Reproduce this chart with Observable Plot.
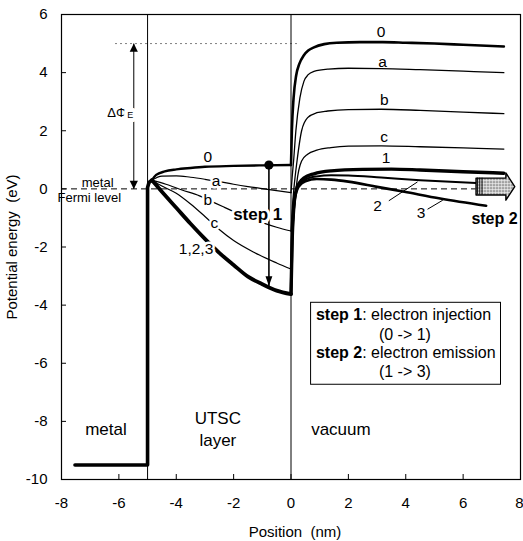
<!DOCTYPE html>
<html>
<head>
<meta charset="utf-8">
<script src="https://cdn.jsdelivr.net/npm/d3@7"></script>
<script src="https://cdn.jsdelivr.net/npm/@observablehq/plot@0.6"></script>
<style>
  body { margin: 0; background: #fff; }
  #chart svg { display: block; }
</style>
</head>
<body>
<div id="chart"></div>
<script>
// Axis ticks
const xTicks = [-8, -6, -4, -2, 0, 2, 4, 6, 8];
const yTicks = [-10, -8, -6, -4, -2, 0, 2, 4, 6];

// Interfaces: metal | UTSC layer at -5 nm, UTSC layer | vacuum at 0 nm
const interfaces = [-5, 0];

// Metal electrode: band bottom and wall up to the layer
const metalEdge = [[-7.53, -9.5], [-5, -9.5], [-5, 0.05], [-4.95, 0.22], [-4.85, 0.3]];

// Potential inside the UTSC layer (x in nm, energy in eV)
const layer0 = [[-4.85, 0.3], [-4.7, 0.48], [-4.4, 0.6], [-4, 0.67], [-3.5, 0.72], [-3, 0.76], [-2, 0.79], [-1, 0.81], [0, 0.82]];
const layerA = [[-4.85, 0.3], [-4.5, 0.44], [-4, 0.45], [-3.5, 0.4], [-3, 0.33], [-2.5, 0.25], [-2, 0.16], [-1.5, 0.08], [-1, 0.01], [-0.5, -0.06], [0, -0.13]];
const layerB = [[-4.85, 0.3], [-4.36, 0.16], [-3.8, -0.04], [-3.19, -0.24], [-2.9, -0.37], [-2.4, -0.6], [-2, -0.78], [-1.5, -0.98], [-1, -1.16], [-0.5, -1.32], [0, -1.45]];
const layerC = [[-4.85, 0.3], [-4.5, 0.1], [-4, -0.15], [-3.5, -0.52], [-3, -0.95], [-2.5, -1.4], [-2, -1.78], [-1.28, -2.19], [-0.5, -2.55], [0, -2.76]];
const layer123 = [[-4.85, 0.3], [-4.5, -0.1], [-4, -0.65], [-3.5, -1.2], [-3, -1.72], [-2.5, -2.2], [-2, -2.62], [-1.5, -3.02], [-1, -3.28], [-0.5, -3.5], [0, -3.62]];

// Potential in the vacuum
const vac0 = [[0, 0.82], [0.03, 2.0], [0.09, 3.13], [0.18, 3.9], [0.29, 4.3], [0.45, 4.6], [0.6, 4.76], [0.8, 4.87], [1.16, 4.98], [1.6, 5.03], [2.4, 5.05], [3.2, 5.05], [4, 5.03], [5, 5.0], [6, 4.96], [7.42, 4.9]];
const vacA = [[0, -0.13], [0.04, 0.4], [0.09, 0.96], [0.17, 2.0], [0.31, 3.13], [0.45, 3.7], [0.6, 3.93], [0.8, 4.04], [1.3, 4.12], [2, 4.15], [3.14, 4.14], [4.5, 4.1], [6, 4.05], [7.42, 4.0]];
const vacB = [[0, -1.45], [0.05, -0.6], [0.1, 0.0], [0.21, 0.96], [0.37, 2.0], [0.58, 2.45], [0.9, 2.62], [1.28, 2.68], [2, 2.73], [3.14, 2.74], [4.5, 2.7], [6, 2.64], [7.42, 2.59]];
const vacC = [[0, -2.76], [0.05, -1.6], [0.1, -0.9], [0.2, 0.2], [0.37, 0.96], [0.58, 1.19], [0.9, 1.33], [1.39, 1.42], [2, 1.47], [3.14, 1.48], [4.5, 1.45], [6, 1.41], [7.42, 1.37]];
const vac1 = [[0, -3.62], [0.04, -1.8], [0.1, -0.6], [0.18, -0.05], [0.3, 0.22], [0.46, 0.38], [0.8, 0.52], [1.4, 0.62], [2.5, 0.67], [3.5, 0.68], [4.5, 0.65], [6, 0.59], [7.42, 0.54]];
const vac2 = [[0, -3.62], [0.04, -1.8], [0.1, -0.6], [0.18, -0.08], [0.3, 0.18], [0.5, 0.32], [0.9, 0.43], [1.4, 0.47], [2, 0.46], [3.14, 0.39], [4.5, 0.3], [6.45, 0.2]];
const vac3 = [[0, -3.62], [0.04, -1.8], [0.1, -0.62], [0.18, -0.12], [0.3, 0.12], [0.5, 0.26], [0.9, 0.34], [1.4, 0.32], [2, 0.25], [3, 0.07], [3.95, -0.1], [5.2, -0.33], [6.8, -0.58]];

// Reference levels
const fermiLevel = 0;          // metal Fermi level
const fermiSpan = [-8, 6.45];
const vacuumLevel = 5;         // vacuum level of state 0
const vacuumSpan = [-6.1, 0.35];

// Curve labels
const labelText = ["0", "a", "b", "c", "1,2,3"];
const labelX = [-2.9, -2.61, -2.9, -2.67, -3.31];
const labelY = [1.08, 0.28, -0.37, -1.16, -2.07];
const vacLabelText = ["0", "a", "b", "c", "1", "2", "3"];
const vacLabelX = [3.14, 3.19, 3.25, 3.25, 3.31, 3.02, 4.53];
const vacLabelY = [5.41, 4.38, 3.05, 1.8, 1.05, -0.58, -0.82];
// Leader lines for labels 2 and 3: [x1, y1, x2, y2]
const leaders = [[3.41, -0.41, 4.41, 0.24], [4.76, -0.7, 5.29, -0.39]];

// Work-function change ΔΦE between Fermi level and vacuum level
const deltaPhiX = -5.48;

// Step 1: electron injection (state 0 -> 1)
const injectX = -0.77;
const injectFrom = 0.82;
const injectTo = -3.34;

// Step 2: electron emission arrow
const emitX0 = 6.45, emitNeck = 7.49, emitTip = 7.8;
const emitMid = 0.08, emitBody = 0.29, emitHead = 0.47;
const emitHatch = [6.5, 6.58, 6.66];

// Region names
const regionText = ["metal", "UTSC", "layer", "vacuum"];
const regionX = [-6.45, -2.55, -2.55, 1.74];
const regionY = [-8.27, -7.89, -8.67, -8.27];

// Legend box contents
const legendBold = ["step 1", "step 2"];
const legendRest = [": electron injection", ": electron emission"];
const legendSub = ["(0 -> 1)", "(1 -> 3)"];
const legendRowsY = [-4.34, -5.01, -5.64, -6.30];
const legendStartX = 0.87;
const legendCenterX = 3.97;
const legendBox = {x1: 0.7, x2: 7.32, y1: -6.74, y2: -3.92};

const FONT = '"Liberation Sans", Arial, Helvetica, sans-serif';

const toXY = (arr) => arr.map(([x, y]) => ({x, y}));
const curve = (arr, w) => Plot.line(toXY(arr), {
  x: "x", y: "y", stroke: "black", strokeWidth: w,
  curve: "monotone-x", strokeLinejoin: "round", strokeLinecap: "round"
});

// Filled arrowhead whose tip sits on the data point (dir 1 = down, -1 = up)
function arrowHead(dir, ratio) {
  return {
    draw(ctx, size) {
      const h = Math.sqrt(size) * 1.5;
      const w = h * ratio;
      ctx.moveTo(0, 0);
      ctx.lineTo(-w, -dir * h);
      ctx.lineTo(w, -dir * h);
      ctx.closePath();
    }
  };
}

// Text widths for the mixed-weight legend lines
const measureCtx = document.createElement("canvas").getContext("2d");
function textWidth(s, weight, size) {
  measureCtx.font = `${weight} ${size}px "Liberation Sans", Arial, sans-serif`;
  return measureCtx.measureText(s).width;
}
const LEGEND_SIZE = 16;
const boldWidth = textWidth(legendBold[0], "bold", LEGEND_SIZE);

const emitOutline = [
  [emitX0, emitMid + emitBody], [emitNeck, emitMid + emitBody], [emitNeck, emitMid + emitHead],
  [emitTip, emitMid], [emitNeck, emitMid - emitHead], [emitNeck, emitMid - emitBody],
  [emitX0, emitMid - emitBody]
];

const halo = {stroke: "white", strokeWidth: 5, paintOrder: "stroke", fill: "black"};
const lastTick = xTicks[xTicks.length - 1];

const svg = Plot.plot({
  width: 523,
  height: 541,
  marginTop: 14,
  marginRight: 3,
  marginBottom: 62,
  marginLeft: 61,
  style: {fontFamily: FONT, background: "white", color: "black", fontSize: "15px"},
  x: {domain: [-8, 8], axis: null},
  y: {domain: [-10, 6], axis: null},
  marks: [
    // interface lines
    Plot.ruleX(interfaces, {stroke: "black", strokeWidth: 1}),
    // Fermi level and vacuum level references
    Plot.ruleY([fermiLevel], {x1: fermiSpan[0], x2: fermiSpan[1], stroke: "black", strokeWidth: 1, strokeDasharray: "6,4"}),
    Plot.ruleY([vacuumLevel], {x1: vacuumSpan[0], x2: vacuumSpan[1], stroke: "black", strokeWidth: 1, strokeDasharray: "1,4"}),

    // potential curves, UTSC layer
    curve(layerA, 1.2),
    curve(layerB, 1.2),
    curve(layerC, 1.2),
    curve(layer0, 2.4),
    curve(layer123, 3.8),
    // potential curves, vacuum
    curve(vacA, 1.3),
    curve(vacB, 1.3),
    curve(vacC, 1.3),
    curve(vac0, 2.6),
    curve(vac2, 2.0),
    curve(vac3, 2.7),
    curve(vac1, 3.4),
    // metal electrode
    Plot.line(toXY(metalEdge), {x: "x", y: "y", stroke: "black", strokeWidth: 3.6, strokeLinejoin: "round"}),

    // step 2 emission arrow
    Plot.line(toXY(emitOutline), {x: "x", y: "y", curve: "linear-closed", fill: "url(#stipple)", stroke: "black", strokeWidth: 1.4}),
    Plot.ruleX(emitHatch, {y1: emitMid - emitBody, y2: emitMid + emitBody, stroke: "black", strokeWidth: 0.9}),

    // curve labels in the layer (white halo breaks the lines)
    Plot.text(labelText, {x: (d, i) => labelX[i], y: (d, i) => labelY[i], text: d => d, fontSize: 15.5, ...halo}),
    // curve labels in the vacuum
    Plot.text(vacLabelText, {x: (d, i) => vacLabelX[i], y: (d, i) => vacLabelY[i], text: d => d, fontSize: 15.5, fill: "black"}),
    Plot.link(leaders, {x1: d => d[0], y1: d => d[1], x2: d => d[2], y2: d => d[3], stroke: "black", strokeWidth: 1}),

    // ΔΦE double arrow
    Plot.link([0], {x1: deltaPhiX, x2: deltaPhiX, y1: fermiLevel, y2: vacuumLevel, stroke: "black", strokeWidth: 1}),
    Plot.dot([fermiLevel], {x: () => deltaPhiX, y: d => d, symbol: arrowHead(1, 0.5), r: 3.1, fill: "black", stroke: null}),
    Plot.dot([vacuumLevel], {x: () => deltaPhiX, y: d => d, symbol: arrowHead(-1, 0.5), r: 3.1, fill: "black", stroke: null}),
    Plot.text(["ΔΦ"], {x: () => -6.07, y: () => 2.63, text: d => d, fontSize: 13, ...halo, strokeWidth: 8}),
    Plot.text(["E"], {x: () => -5.6, y: () => 2.53, text: d => d, fontSize: 9, ...halo, strokeWidth: 8}),

    // step 1 injection arrow
    Plot.link([0], {x1: injectX, x2: injectX, y1: injectFrom, y2: injectTo, stroke: "black", strokeWidth: 1.6}),
    Plot.dot([injectTo], {x: () => injectX, y: d => d, symbol: arrowHead(1, 0.36), r: 3.6, fill: "black", stroke: null}),
    Plot.dot([injectFrom], {x: () => injectX, y: d => d, r: 4.6, fill: "black", stroke: null}),
    Plot.text(["step 1"], {x: () => -1.16, y: () => -0.87, text: d => d, fontSize: 17, fontWeight: "bold", ...halo, strokeWidth: 6}),
    Plot.text(["step 2"], {x: () => 7.9, y: () => -1.04, text: d => d, fontSize: 16, fontWeight: "bold", textAnchor: "end", fill: "black"}),

    // Fermi level caption
    Plot.text(["metal"], {x: () => -6.74, y: () => 0.22, text: d => d, fontSize: 13, fill: "black"}),
    Plot.text(["Fermi level"], {x: () => -7.03, y: () => -0.3, text: d => d, fontSize: 13, fill: "black"}),

    // region names
    Plot.text(regionText, {x: (d, i) => regionX[i], y: (d, i) => regionY[i], text: d => d, fontSize: 17, fill: "black"}),

    // legend box
    Plot.rect([legendBox], {x1: "x1", x2: "x2", y1: "y1", y2: "y2", fill: "white", stroke: "black", strokeWidth: 1}),
    Plot.text(legendBold, {x: () => legendStartX, y: (d, i) => legendRowsY[i * 2], text: d => d, textAnchor: "start", fontWeight: "bold", fontSize: LEGEND_SIZE, fill: "black"}),
    Plot.text(legendRest, {x: () => legendStartX, y: (d, i) => legendRowsY[i * 2], dx: boldWidth, text: d => d, textAnchor: "start", fontSize: LEGEND_SIZE, fill: "black"}),
    Plot.text(legendSub, {x: () => legendCenterX, y: (d, i) => legendRowsY[i * 2 + 1], text: d => d, fontSize: LEGEND_SIZE, fill: "black"}),

    // frame with inward ticks
    Plot.frame({stroke: "black", strokeWidth: 1.2}),
    Plot.ruleX(xTicks, {insetTop: 460, stroke: "black", strokeWidth: 1}),
    Plot.ruleY(yTicks, {insetRight: 454, stroke: "black", strokeWidth: 1}),
    // tick labels (the last x label is kept inside the page edge)
    Plot.text(xTicks.filter(d => d !== lastTick), {x: d => d, frameAnchor: "bottom", dy: 24, lineAnchor: "middle", text: d => String(d), fontSize: 15, fill: "black"}),
    Plot.text([lastTick], {x: d => d, frameAnchor: "bottom", dy: 24, dx: 3, lineAnchor: "middle", textAnchor: "end", text: d => String(d), fontSize: 15, fill: "black"}),
    Plot.axisY(yTicks, {tickSize: 0, tickPadding: 14, fontSize: 15, tickFormat: d => String(d), label: null}),
    Plot.text(["Position  (nm)"], {frameAnchor: "bottom", dy: 53, dx: 4, lineAnchor: "middle", text: d => d, fontSize: 15, fill: "black"}),
    Plot.text(["Potential energy  (eV)"], {frameAnchor: "left", dx: -49, rotate: -90, textAnchor: "middle", text: d => d, fontSize: 15, fill: "black"})
  ]
});

// stipple fill used by the emission arrow
const defs = d3.select(svg).insert("defs", ":first-child");
const pat = defs.append("pattern").attr("id", "stipple")
  .attr("patternUnits", "userSpaceOnUse").attr("width", 3).attr("height", 3);
pat.append("rect").attr("width", 3).attr("height", 3).attr("fill", "#e8e8e8");
pat.append("circle").attr("cx", 1.5).attr("cy", 1.5).attr("r", 0.85).attr("fill", "#333");

document.getElementById("chart").appendChild(svg);
</script>
</body>
</html>
